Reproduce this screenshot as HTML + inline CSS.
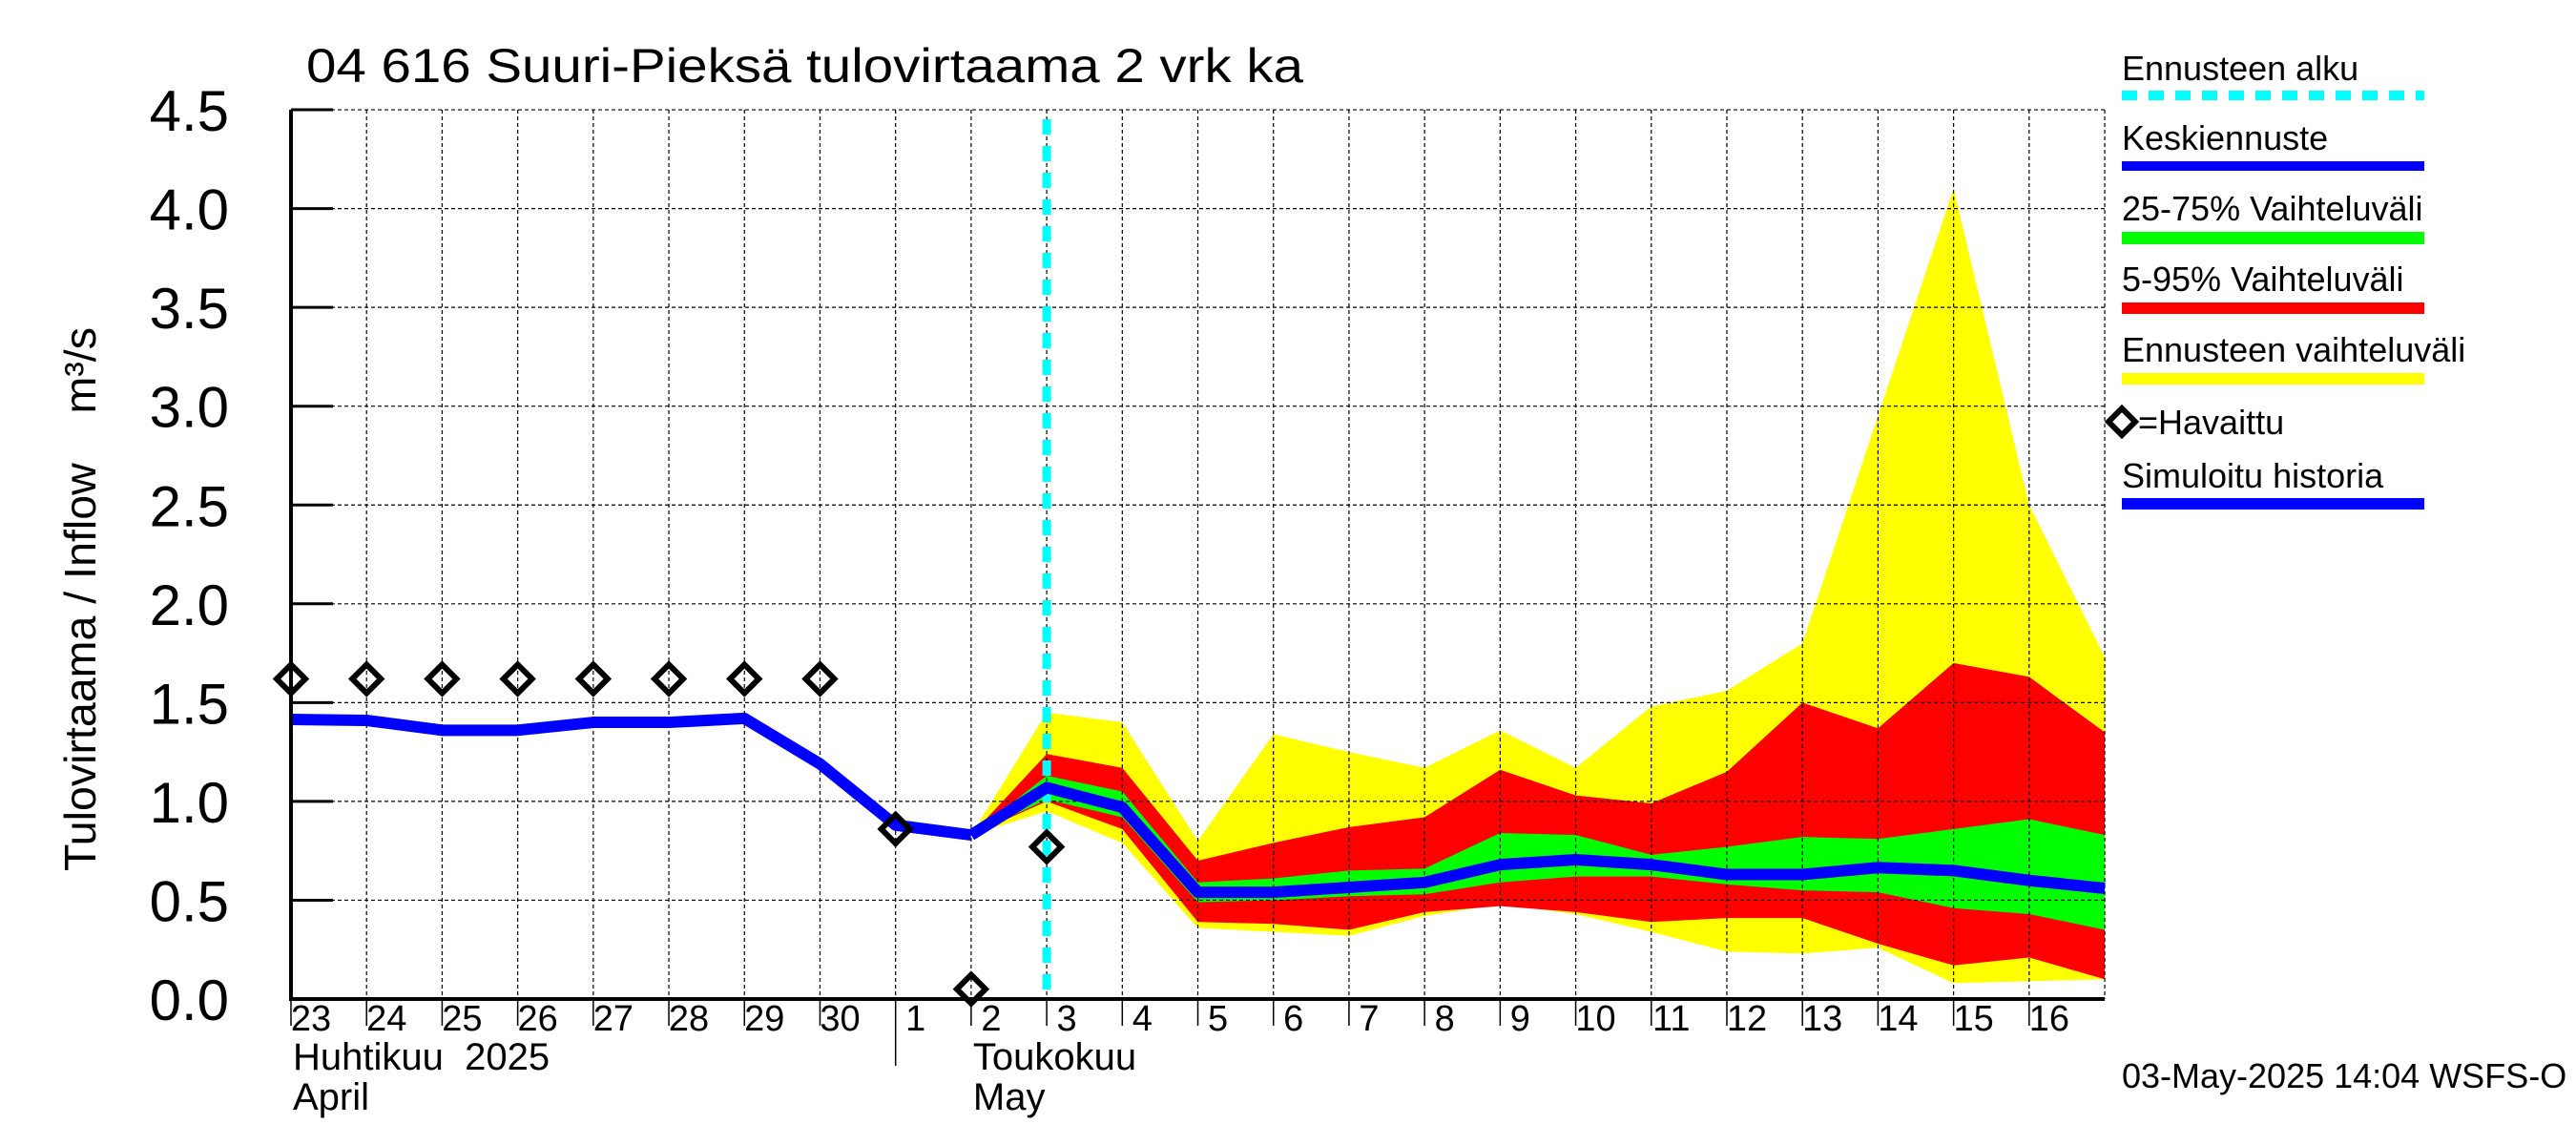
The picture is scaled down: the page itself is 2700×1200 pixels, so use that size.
<!DOCTYPE html>
<html><head><meta charset="utf-8"><style>
html,body{margin:0;padding:0;background:#fff;}
svg{display:block;font-family:"Liberation Sans",Arial,sans-serif;}
</style></head><body>
<svg id="chart" width="2700" height="1200" viewBox="0 0 2700 1200" xmlns="http://www.w3.org/2000/svg">
<rect width="2700" height="1200" fill="#fff"/>
<text x="321" y="86" font-size="50" textLength="1045" lengthAdjust="spacingAndGlyphs">04 616 Suuri-Pieksä tulovirtaama 2 vrk ka</text>
<text transform="translate(100,628) rotate(-90)" text-anchor="middle" font-size="46" textLength="570" lengthAdjust="spacingAndGlyphs" xml:space="preserve" style="white-space:pre">Tulovirtaama / Inflow    m³/s</text>
<g id="bands"></g>
<g id="grid"></g>
<g id="lines"></g>
<g id="axes"></g>
<g id="legend">
 <text x="2224" y="84" font-size="36">Ennusteen alku</text>
 <line x1="2224" y1="100" x2="2541" y2="100" stroke="#00ffff" stroke-width="10" stroke-dasharray="16,12"/>
 <text x="2224" y="157" font-size="36">Keskiennuste</text>
 <rect x="2224" y="169" width="317" height="10" fill="#0000ff"/>
 <text x="2224" y="231" font-size="36">25-75% Vaihteluväli</text>
 <rect x="2224" y="243" width="317" height="13" fill="#00ff00"/>
 <text x="2224" y="305" font-size="36">5-95% Vaihteluväli</text>
 <rect x="2224" y="317" width="317" height="12" fill="#ff0000"/>
 <text x="2224" y="379" font-size="36">Ennusteen vaihteluväli</text>
 <rect x="2224" y="391" width="317" height="12" fill="#ffff00"/>
 <path d="M2224,428 L2238,442 L2224,456 L2210,442 Z" fill="none" stroke="#000" stroke-width="6"/>
 <text x="2241" y="455" font-size="36">=Havaittu</text>
 <text x="2224" y="511" font-size="36">Simuloitu historia</text>
 <rect x="2224" y="522" width="317" height="12" fill="#0000ff"/>
</g>
<text x="2224" y="1140" font-size="36">03-May-2025 14:04 WSFS-O</text>
</svg>
<script>
const dayLabels=["23","24","25","26","27","28","29","30","1","2","3","4","5","6","7","8","9","10","11","12","13","14","15","16"];
const yTicks=[0,0.5,1,1.5,2,2.5,3,3.5,4,4.5];
const obsDays=[0,1,2,3,4,5,6,7,8,9,10];
const obsVals=[1.62,1.62,1.62,1.62,1.62,1.62,1.62,1.62,0.86,0.05,0.77];
const histVals=[1.415,1.41,1.36,1.36,1.40,1.40,1.42,1.19,0.88,0.83];
const fcDays=[9,10,11,12,13,14,15,16,17,18,19,20,21,22,23,24];
const medVals=[0.83,1.07,0.97,0.54,0.54,0.565,0.59,0.68,0.705,0.68,0.63,0.63,0.665,0.65,0.60,0.56];
const yelMax=[0.83,1.45,1.40,0.80,1.34,1.25,1.17,1.36,1.17,1.48,1.56,1.80,2.95,4.10,2.50,1.73];
const yelMin=[0.83,0.95,0.79,0.36,0.34,0.32,0.42,0.48,0.43,0.34,0.24,0.23,0.26,0.08,0.09,0.10];
const redMax=[0.83,1.24,1.17,0.70,0.79,0.87,0.92,1.16,1.03,0.99,1.15,1.50,1.37,1.70,1.63,1.35];
const redMin=[0.83,1.00,0.86,0.39,0.38,0.35,0.44,0.47,0.44,0.39,0.41,0.41,0.28,0.17,0.21,0.10];
const grnMax=[0.83,1.13,1.05,0.59,0.61,0.65,0.66,0.84,0.83,0.73,0.77,0.82,0.81,0.86,0.91,0.83];
const grnMin=[0.83,1.01,0.92,0.49,0.50,0.52,0.53,0.59,0.62,0.62,0.58,0.55,0.54,0.46,0.43,0.35];
const forecastStart=10;

const X0=305,DX=79.21,Y0=1047,DY=207.1;
const x=d=>X0+d*DX, y=v=>Y0-v*DY;
const NS="http://www.w3.org/2000/svg";
function mk(tag,attrs,parent){const e=document.createElementNS(NS,tag);for(const k in attrs)e.setAttribute(k,attrs[k]);parent.appendChild(e);return e;}
const bands=document.getElementById('bands'),grid=document.getElementById('grid'),lines=document.getElementById('lines'),axes=document.getElementById('axes');

function band(maxA,minA,color,name){
  let pts=fcDays.map((d,i)=>x(d)+','+y(maxA[i]));
  for(let i=fcDays.length-1;i>=0;i--)pts.push(x(fcDays[i])+','+y(minA[i]));
  const p=mk('polygon',{points:pts.join(' '),fill:color},bands);
  
  
}
band(yelMax,yelMin,'#ffff00','forecast-range-band');
band(redMax,redMin,'#ff0000','band-5-95');
band(grnMax,grnMin,'#00ff00','band-25-75');

for(let d=1;d<=24;d++){
  const g=mk('line',{x1:x(d),y1:y(4.5),x2:x(d),y2:Y0,stroke:'#000','stroke-width':1.2,'stroke-dasharray':'4,3'},grid);
  
  
}
yTicks.forEach(v=>{
  if(v>0){const g=mk('line',{x1:X0,y1:y(v),x2:x(24),y2:y(v),stroke:'#000','stroke-width':1.2,'stroke-dasharray':'4,3'},grid);
  
  }
  const t=mk('line',{x1:X0,y1:y(v),x2:X0+44,y2:y(v),stroke:'#000','stroke-width':3},axes);
  
  
  const l=mk('text',{x:240,y:y(v)+22,'text-anchor':'end','font-size':60},axes);
  l.textContent=v.toFixed(1);
  
  
});

const fl=mk('line',{x1:x(forecastStart),y1:y(4.5)+10,x2:x(forecastStart),y2:Y0,stroke:'#00ffff','stroke-width':9,'stroke-dasharray':'16,12'},lines);



const hp=mk('polyline',{points:histVals.map((v,i)=>x(i)+','+y(v)).join(' '),fill:'none',stroke:'#0000ff','stroke-width':12,'stroke-linejoin':'round'},lines);


const mp=mk('polyline',{points:fcDays.map((d,i)=>x(d)+','+y(medVals[i])).join(' '),fill:'none',stroke:'#0000ff','stroke-width':12,'stroke-linejoin':'round'},lines);



obsDays.forEach((d,i)=>{
  const cx=x(d),cy=y(obsVals[i]);
  const m=mk('path',{d:`M${cx},${cy-15} L${cx+15},${cy} L${cx},${cy+15} L${cx-15},${cy} Z`,fill:'none',stroke:'#000','stroke-width':6},lines);
  
  
});

const ax=mk('line',{x1:X0,y1:y(4.5),x2:X0,y2:Y0+2,stroke:'#000','stroke-width':4},axes);


const bx=mk('line',{x1:X0,y1:Y0,x2:x(24),y2:Y0,stroke:'#000','stroke-width':4},axes);


function krow(d){return d===8?70:28;}
dayLabels.forEach((s,d)=>{
  const tk=mk('line',{x1:x(d),y1:Y0,x2:x(d),y2:Y0+krow(d),stroke:'#000','stroke-width':1.5},axes);
  
  
  const t=mk('text',{x:x(d)+21,y:1080,'text-anchor':'middle','font-size':38},axes);
  t.textContent=s;
  
  
});
[["Huhtikuu  2025",0,1121,'month-label-april-fi'],["April",0,1163,'month-label-april-en'],["Toukokuu",9,1121,'month-label-may-fi'],["May",9,1163,'month-label-may-en']].forEach(a=>{
  const t=mk('text',{x:x(a[1])+2,y:a[2],'font-size':40,'xml:space':'preserve',style:'white-space:pre'},axes);
  t.textContent=a[0];
  
  
});
</script>
</body></html>
